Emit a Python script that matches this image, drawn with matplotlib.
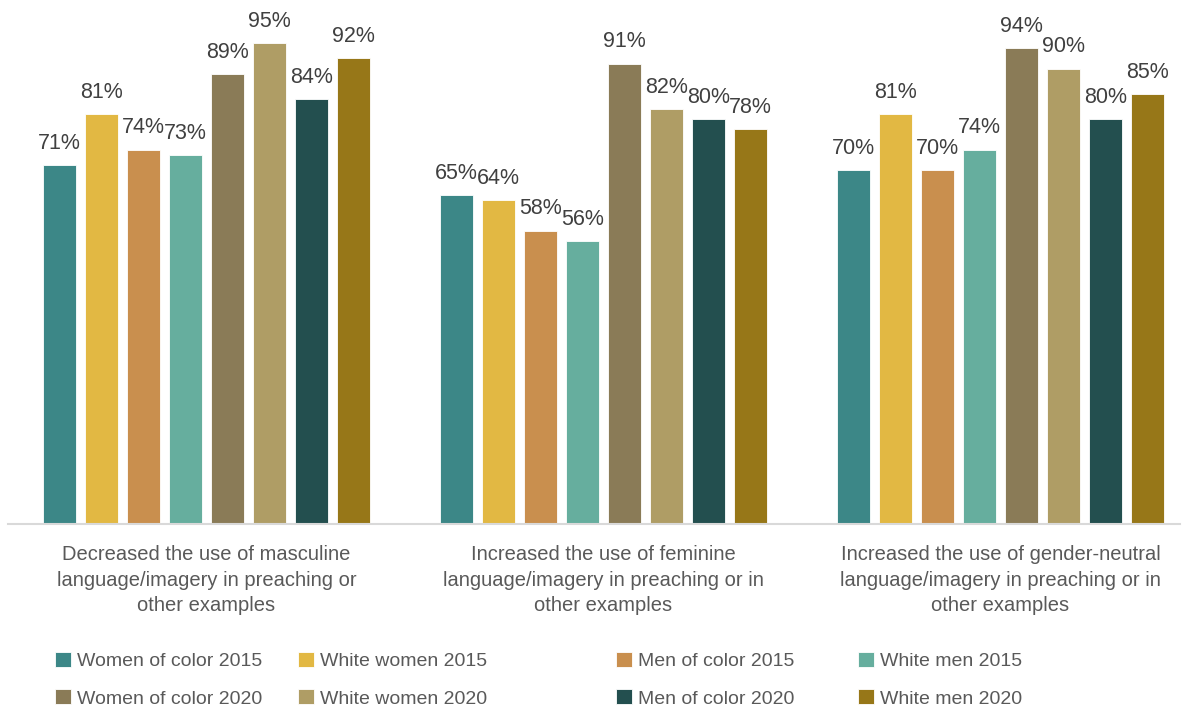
import matplotlib
matplotlib.use("Agg")
import matplotlib.pyplot as plt
import numpy as np

plt.rcParams["font.family"] = ["Liberation Sans", "DejaVu Sans"]

categories = [
    "Decreased the use of masculine\nlanguage/imagery in preaching or\nother examples",
    "Increased the use of feminine\nlanguage/imagery in preaching or in\nother examples",
    "Increased the use of gender-neutral\nlanguage/imagery in preaching or in\nother examples",
]
series_names = ["Women of color 2015", "White women 2015", "Men of color 2015", "White men 2015",
                "Women of color 2020", "White women 2020", "Men of color 2020", "White men 2020"]
women_of_color_2015 = [71, 65, 70]
white_women_2015 = [81, 64, 81]
men_of_color_2015 = [74, 58, 70]
white_men_2015 = [73, 56, 74]
women_of_color_2020 = [89, 91, 94]
white_women_2020 = [95, 82, 90]
men_of_color_2020 = [84, 80, 80]
white_men_2020 = [92, 78, 85]
series = [women_of_color_2015, white_women_2015, men_of_color_2015, white_men_2015,
          women_of_color_2020, white_women_2020, men_of_color_2020, white_men_2020]
colors = ["#3C8787", "#E2B843", "#C98F4E", "#66AE9E", "#8A7B57", "#AF9D65", "#234F4F", "#977718"]

W, H = 1184, 708
fig = plt.figure(figsize=(W / 100, H / 100), dpi=100)
ax_left, ax_right, ax_top, ax_bottom = 8, 1180, 18, 524
ax = fig.add_axes([ax_left / W, 1 - ax_bottom / H, (ax_right - ax_left) / W, (ax_bottom - ax_top) / H])

cat_px = 397.0
x = np.arange(len(categories))
step = 42 / cat_px
bw = 33 / cat_px
handles = []
for i, (vals, c) in enumerate(zip(series, colors)):
    off = (i - 3.5) * step
    b = ax.bar(x + off, vals, width=bw, color=c, edgecolor="white", linewidth=0.6, label=series_names[i])
    handles.append(b)
    for xi, v in zip(x + off, vals):
        ax.annotate(f"{v}%", (xi, v), xytext=(0, 8), textcoords="offset points",
                    ha="center", va="bottom", fontsize=15.5, color="#404040")

ax.set_ylim(0, 100)
ax.set_xlim(-0.5, -0.5 + (ax_right - ax_left) / cat_px)
for s in ["top", "right", "left"]:
    ax.spines[s].set_visible(False)
ax.spines["bottom"].set_color("#D9D9D9")
ax.spines["bottom"].set_linewidth(1.5)
ax.set_yticks([])
ax.set_xticks(x)
ax.set_xticklabels(categories, fontsize=14.5, color="#595959", linespacing=1.45)
ax.tick_params(axis="x", length=0, pad=15)

# legend: four columns placed like the reference
col_x = [57, 300, 618, 860]
for ci in range(4):
    hs = [handles[ci], handles[ci + 4]]
    ls = [series_names[ci], series_names[ci + 4]]
    fig.legend(hs, ls, loc="upper left", bbox_to_anchor=(col_x[ci] / W - 0.008, 1 - 644 / H),
               frameon=False, fontsize=14, labelcolor="#595959", handlelength=0.8, handleheight=0.8,
               handletextpad=0.3, labelspacing=1.0, borderaxespad=0)

fig.savefig("out.png", dpi=100)
